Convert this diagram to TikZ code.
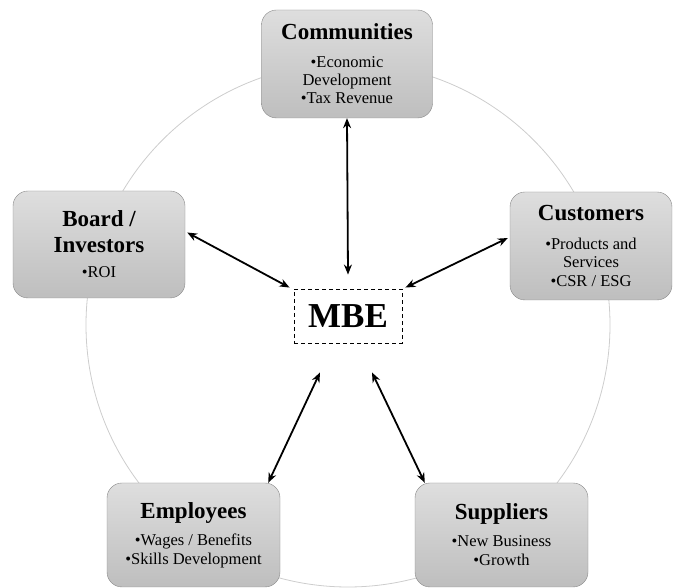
\documentclass[tikz,border=0pt]{standalone}
\usepackage{fontspec}
\setmainfont{Liberation Serif}
\usetikzlibrary{arrows.meta}
\definecolor{boxline}{RGB}{135,135,135}
\definecolor{ring}{RGB}{205,205,205}
\definecolor{boxtop}{RGB}{222,222,222}
\definecolor{boxbot}{RGB}{190,190,190}
\newcommand{\hd}[1]{{\fontsize{23}{26}\selectfont\bfseries #1}}

\begin{document}
\begin{tikzpicture}[x=1pt,y=1pt,
  party/.style={draw=boxline, rounded corners=15pt, top color=boxtop, bottom color=boxbot,
    align=center, inner sep=0pt, font=\fontsize{16.5}{18}\selectfont},
  firm/.style={draw=black, dashed, dash pattern=on 4pt off 3pt, line width=0.9pt,
    minimum width=108pt, minimum height=54pt, inner sep=0pt},
  link/.style={{Stealth[length=10pt,width=8pt]}-{Stealth[length=10pt,width=8pt]}, line width=1.8pt, black}]
  \useasboundingbox (0,0) rectangle (673,588);

  %# CIRCULO DE FONDO
  \draw[ring, line width=0.8pt] (348,263) circle (262);

  %# EMPRESA EN EL CENTRO
  \node[firm] (mbe) at (348,272) {\fontsize{35}{38}\selectfont\bfseries MBE};

  %# GRUPOS DE INTERES
  \node[party, minimum width=171pt, minimum height=108pt] (comm) at (347,524)
    {\hd{Communities}\\[10pt]•Economic\\Development\\•Tax Revenue};
  \node[party, minimum width=172pt, minimum height=107pt] (board) at (99,343.5)
    {\hd{Board /}\\[8pt]\hd{Investors}\\[7pt]•ROI};
  \node[party, minimum width=162pt, minimum height=108pt] (cust) at (591,342)
    {\hd{Customers}\\[11pt]•Products and\\Services\\[1pt]•CSR / ESG};
  \node[party, minimum width=173pt, minimum height=104pt] (emp) at (193.5,53)
    {\hd{Employees}\\[9pt]•Wages / Benefits\\[1pt]•Skills Development};
  \node[party, minimum width=173pt, minimum height=104pt] (sup) at (501.5,53)
    {\hd{Suppliers}\\[9pt]•New Business\\[1pt]•Growth};

  %# FLECHAS
  \draw[link] (comm.south) -- ([yshift=14pt]mbe.north);
  \draw[link] ([xshift=2pt,yshift=12pt]board.east) -- ([xshift=-4pt,yshift=1pt]mbe.north west);
  \draw[link] ([xshift=-2pt,yshift=8pt]cust.west) -- ([xshift=3pt,yshift=1pt]mbe.north east);
  \draw[link] ([xshift=-12pt]emp.north east) -- ([xshift=-28pt,yshift=-29pt]mbe.south);
  \draw[link] ([xshift=10pt]sup.north west) -- ([xshift=24pt,yshift=-29pt]mbe.south);
\end{tikzpicture}
\end{document}
